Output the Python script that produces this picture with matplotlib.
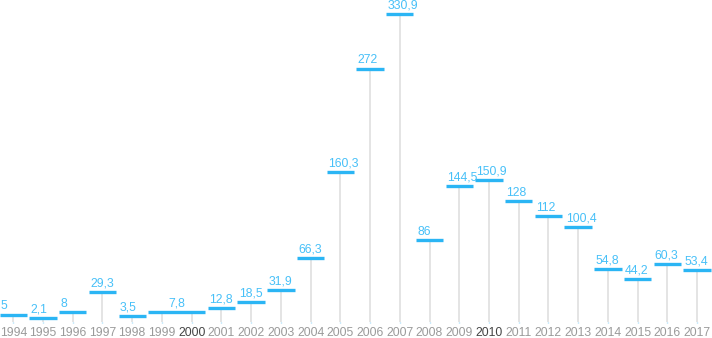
import matplotlib
matplotlib.use("Agg")
import matplotlib.pyplot as plt

plt.rcParams['font.family'] = ['Liberation Sans', 'DejaVu Sans']

years = list(range(1994, 2018))
values = [5, 2.1, 8, 29.3, 3.5, 7.8, 7.8, 12.8, 18.5, 31.9, 66.3, 160.3, 272, 330.9,
          86, 144.5, 150.9, 128, 112, 100.4, 54.8, 44.2, 60.3, 53.4]
highlight_years = [2000, 2010]

BAR = "#2bb5f4"
LABEL = "#47c0f8"
STEM = "#dcdcdc"

W, H = 712, 338
fig = plt.figure(figsize=(W / 100, H / 100), dpi=100)
ax = fig.add_axes([0, 0, 1, 1])

# pixel-based layout: x in year slots, y in value units
step = 29.73          # px per year
x0 = 13.3             # px of first year
base_px = 319.5       # px of value 0
scale = 0.922         # px per unit
ax.set_xlim(-x0 / step, (W - x0) / step)
ax.set_ylim((base_px - H) / scale, base_px / scale)
ax.axis("off")

stem_bottom = (base_px - 321.5) / scale
tick_bottom = (base_px - 323) / scale
year_y = (base_px - 333) / scale
half = 0.46

xs = list(range(len(years)))

# stems and small axis ticks
for x, v in zip(xs, values):
    ax.plot([x, x], [stem_bottom, v], color=STEM, lw=1.1, zorder=1, solid_capstyle="butt")
    ax.plot([x, x], [tick_bottom, stem_bottom], color="#9ad8f8", lw=1, zorder=1, solid_capstyle="butt")

# runs of equal consecutive values share one bar
runs = []
i = 0
while i < len(values):
    j = i
    while j + 1 < len(values) and values[j + 1] == values[i]:
        j += 1
    runs.append((i, j))
    i = j + 1

for i, j in runs:
    v = values[i]
    left, right = xs[i] - half, xs[j] + half
    ax.plot([left, right], [v, v], color=BAR, lw=2.4, solid_capstyle="butt", zorder=3)
    txt = f"{v:g}".replace(".", ",")
    off = 2.5 / scale
    if i == j:
        ax.text(left + 0.04, v + off, txt, color=LABEL, fontsize=8.8,
                ha="left", va="bottom", zorder=4)
    else:
        ax.text((left + right) / 2, v + off, txt, color=LABEL, fontsize=8.8,
                ha="center", va="bottom", zorder=4)

for x, yr in zip(xs, years):
    col = "#444444" if yr in highlight_years else "#9a9a9a"
    ax.text(x, year_y, str(yr), color=col, fontsize=8.8, ha="center", va="center")

fig.savefig("out.png", dpi=100)
